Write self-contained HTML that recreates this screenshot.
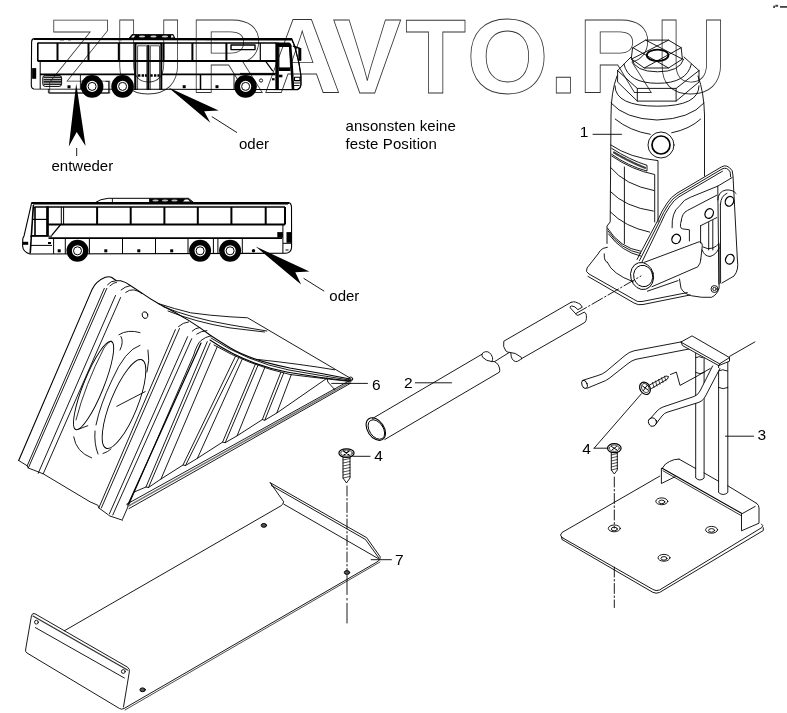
<!DOCTYPE html>
<html><head><meta charset="utf-8">
<style>
html,body{margin:0;padding:0;background:#fff;}
body{width:787px;height:713px;overflow:hidden;}
svg{display:block;will-change:transform;}
text{font-family:"Liberation Sans",sans-serif;}
</style></head>
<body>
<svg width="787" height="713" viewBox="0 0 787 713">
<g id="wm" font-size="105.5" font-weight="bold" fill="none" stroke="#333" stroke-width="0.8"><text transform="translate(46.6,92.8) scale(1.03,1)" stroke-width="0.78">Z</text><text transform="translate(113.9,92.8) scale(0.912,1)" stroke-width="0.88">U</text><text transform="translate(189.2,92.8) scale(0.987,1)" stroke-width="0.81">R</text><text transform="translate(263.1,92.8) scale(1.03,1)" stroke-width="0.78">A</text><text transform="translate(333,92.8) scale(0.972,1)" stroke-width="0.82">V</text><text transform="translate(405.3,92.8) scale(0.944,1)" stroke-width="0.85">T</text><text transform="translate(466.4,92.8) scale(1.0,1)" stroke-width="0.80">O</text><text transform="translate(549.5,92.8) scale(0.95,1)" stroke-width="0.84">.</text><text transform="translate(578.2,92.8) scale(0.987,1)" stroke-width="0.81">R</text><text transform="translate(656.3,92.8) scale(0.922,1)" stroke-width="0.87">U</text></g>

<!-- bus 1 -->
<g id="bus1" stroke="#000" fill="none" stroke-linejoin="round">
<!-- outer body -->
<path d="M291.8,38.6 L34.5,38.6 Q31.6,38.8 31.6,42 L31.3,85 Q31.3,88.6 34,89 L298,89.6 Q301,88 301,84 L301,75.8 L299,63.6 L294.9,46.3 Z" stroke-width="1.1"/>
<line x1="34" y1="39.3" x2="292" y2="39.8" stroke-width="1.6"/>
<path d="M60,40.6 h4 M68,40.6 h3 M118,40.6 h4 M206,40.6 h4 M214,40.6 h3 M262,40.6 h4 M270,40.6 h3" stroke-width="0.8" stroke="#888"/>
<!-- roof AC -->
<path d="M128.8,38.6 L132,34.5 L173.2,34.5 L175,38.6 Z" fill="#000" stroke-width="0.8"/>
<path d="M131,37.6 L133,35.5 L135,35.5 L134,37.6 Z M171,35.5 L173,35.5 L173.5,37.6 L171,37.6 Z" fill="#fff" stroke="none"/>
<ellipse cx="142" cy="36.6" rx="3.2" ry="1" fill="#ccc" stroke="none"/>
<ellipse cx="153.5" cy="36.6" rx="3.2" ry="1" fill="#ccc" stroke="none"/>
<ellipse cx="165" cy="36.6" rx="3.2" ry="1" fill="#ccc" stroke="none"/>
<!-- window band -->
<line x1="37.5" y1="43" x2="276" y2="43" stroke-width="1.6"/>
<line x1="37.5" y1="61" x2="276" y2="61" stroke-width="2"/>
<line x1="37.8" y1="43" x2="37.8" y2="61" stroke-width="1.6"/>
<g stroke-width="2">
<line x1="57.5" y1="43" x2="57.5" y2="61"/>
<line x1="88.5" y1="43" x2="88.5" y2="61"/>
<line x1="118.8" y1="43" x2="118.8" y2="61"/>
<line x1="163.5" y1="43" x2="163.5" y2="61"/>
<line x1="192.4" y1="43" x2="192.4" y2="61"/>
<line x1="226.4" y1="43" x2="226.4" y2="61"/>
</g>
<line x1="260.3" y1="43" x2="260.3" y2="61" stroke-width="1.2"/>
<rect x="231" y="45" width="24" height="4.6" stroke-width="1.4"/>
<!-- door -->
<line x1="135.3" y1="42.7" x2="135.3" y2="90" stroke-width="2.2"/>
<line x1="148.3" y1="45" x2="148.3" y2="90" stroke-width="2.2"/>
<line x1="161.3" y1="42.7" x2="161.3" y2="90" stroke-width="2"/>
<line x1="135" y1="43.5" x2="162" y2="43.5" stroke-width="1.5"/>
<path d="M137.6,90 L137.6,45.8 L146.8,45.8 L146.8,90 M150.3,90 L150.3,45.8 L159.5,45.8 L159.5,90" stroke-width="0.7"/>
<path d="M138,75.5 h2.4 M141.6,75.5 h2.4 M144.9,75.5 h2 M150.3,75.5 h2.4 M154,75.5 h2.4 M157.4,75.5 h2.2" stroke-width="2.4"/>
<!-- lower body -->
<line x1="40" y1="74.4" x2="135" y2="74.4" stroke-width="1.8"/>
<line x1="162" y1="74.4" x2="275.5" y2="74.4" stroke-width="1.8"/>
<line x1="40.2" y1="61" x2="40.2" y2="89" stroke-width="1"/>
<rect x="32.1" y="68.1" width="4.1" height="10.7" fill="#000" stroke="none"/>
<rect x="42.8" y="75.4" width="18.8" height="11" rx="2.5" stroke-width="1"/>
<path d="M43.5,77.3 h17.5 M43.5,79.6 h17.5 M43.5,81.9 h17.5 M43.5,84.2 h17.5" stroke-width="1.6" stroke="#222"/>
<path d="M48.4,89 L48.4,93 L108.6,93 L108.6,81.4 L105.6,81.4" stroke-width="0.8"/>
<line x1="80.4" y1="75" x2="80.4" y2="89" stroke-width="0.9"/>
<line x1="200.5" y1="74.4" x2="200.5" y2="90" stroke-width="1.5"/>
<line x1="234" y1="74.4" x2="234" y2="90" stroke-width="0.9"/>
<!-- front -->
<path d="M275.4,42.6 L289,42.6 Q291.5,43.5 291.5,47 L278.9,47 Z" fill="#000" stroke="none"/>
<path d="M290,45 L291.3,60 L293,89" stroke-width="2.6"/>
<line x1="277.1" y1="42.6" x2="277.1" y2="89" stroke-width="3.5"/>
<path d="M279,47 L279,68 M289.8,47 L290.5,68" stroke-width="0.8"/>
<line x1="278.9" y1="69.2" x2="290.6" y2="69.2" stroke-width="3.6"/>
<line x1="265.9" y1="61.7" x2="272.8" y2="71.2" stroke-width="1.2"/>
<path d="M292,40.5 L294.5,46 L299,63 L300.8,75 L300.9,85 Q300.5,88.5 297,89.5" stroke-width="1"/>
<path d="M293,46 L300,48.5" stroke-width="1.4"/>
<rect x="298.3" y="48" width="3" height="12.8" fill="#000" stroke="none"/>
<rect x="294.5" y="77.3" width="5.5" height="3.3" stroke-width="1.1"/>
<line x1="293.5" y1="83" x2="300" y2="83" stroke-width="0.9"/>
<line x1="293.5" y1="85.5" x2="299.5" y2="85.5" stroke-width="0.9"/>
<line x1="240" y1="73.4" x2="276" y2="73.4" stroke-width="1"/>
<circle cx="261" cy="80.5" r="1.6" stroke-width="0.9"/>
<rect x="278.9" y="74.7" width="3.5" height="2.6" fill="#000" stroke="none"/>
<rect x="272" y="78.2" width="2.6" height="2.1" fill="#000" stroke="none"/>
<!-- markers -->
<rect x="67.5" y="85.3" width="3" height="3" fill="#000" stroke="none"/>
<rect x="182.7" y="85.2" width="3" height="3" fill="#000" stroke="none"/>
<rect x="215.5" y="85.2" width="3" height="3" fill="#000" stroke="none"/>
</g>
<g id="wheels1">
<circle cx="92.1" cy="86.4" r="11.3" fill="#000"/><circle cx="92.1" cy="86.4" r="5.6" fill="#fff"/><circle cx="92.1" cy="86.4" r="4" fill="none" stroke="#000" stroke-width="1"/>
<circle cx="122.6" cy="86.4" r="11.3" fill="#000"/><circle cx="122.6" cy="86.4" r="5.6" fill="#fff"/><circle cx="122.6" cy="86.4" r="4" fill="none" stroke="#000" stroke-width="1"/>
<circle cx="245.6" cy="86.4" r="11.3" fill="#000"/><circle cx="245.6" cy="86.4" r="5.6" fill="#fff"/><circle cx="245.6" cy="86.4" r="4" fill="none" stroke="#000" stroke-width="1"/>
</g>

<!-- bus 2 -->
<g id="bus2" stroke="#000" fill="none" stroke-linejoin="round">
<path d="M31.7,202.6 L288.5,202.6 Q291.3,203 291.5,207 L291.6,247 Q291.4,252.5 286,253.3 L30,254 Q23,252 22.6,246 L22.8,238.5 L24.1,235.7 L31.7,202.6 Z" stroke-width="1.1"/>
<line x1="32" y1="203.2" x2="289" y2="203.2" stroke-width="1.5"/>
<line x1="33" y1="204.6" x2="288" y2="204.6" stroke-width="0.6"/>
<!-- AC -->
<path d="M95.6,202.4 Q100,199 108.3,198.3 L188.5,198.3 L193.5,202.4" stroke-width="1"/>
<line x1="112.4" y1="198.5" x2="112.4" y2="202.4" stroke-width="0.9"/>
<line x1="149.5" y1="198.5" x2="149.5" y2="202.4" stroke-width="0.9"/>
<path d="M150,198.5 L188.5,198.5 L193,202.4 L150,202.4 Z" fill="#000" stroke="none"/>
<ellipse cx="155.5" cy="200.5" rx="3.2" ry="0.9" fill="#bbb" stroke="none"/>
<ellipse cx="165" cy="200.5" rx="3.2" ry="0.9" fill="#bbb" stroke="none"/>
<ellipse cx="174.5" cy="200.5" rx="3.2" ry="0.9" fill="#bbb" stroke="none"/>
<path d="M183,201.5 L185,199.5 L188,199.5 L190,201.5 Z" fill="#fff" stroke="none"/>
<!-- front -->
<line x1="33.4" y1="205" x2="30.2" y2="253.5" stroke-width="1.6"/>
<path d="M34.8,207 L47.5,207 L47.5,235.7 L31.5,235.7" stroke-width="1.6"/>
<line x1="33" y1="219.4" x2="47" y2="219.4" stroke-width="1.2"/>
<path d="M33,207.5 L35,207.5 L35,235" stroke-width="1.6"/>
<line x1="47.5" y1="206.5" x2="47.5" y2="236" stroke-width="2.6"/>
<line x1="47.5" y1="207" x2="285" y2="207" stroke-width="1.6"/>
<line x1="47.5" y1="224.6" x2="285" y2="224.6" stroke-width="2"/>
<line x1="61.3" y1="207" x2="61.3" y2="224.5" stroke-width="1"/>
<line x1="63.6" y1="207" x2="63.6" y2="224.5" stroke-width="1"/>
<line x1="60.7" y1="224.5" x2="51.5" y2="235.7" stroke-width="1.2"/>
<line x1="48.5" y1="238.2" x2="282" y2="238.2" stroke-width="1.8"/>
<line x1="30" y1="236.2" x2="52" y2="236.2" stroke-width="1"/>
<line x1="30" y1="245.4" x2="52" y2="245.4" stroke-width="1"/>
<rect x="22.6" y="241.8" width="5.6" height="3" fill="#000" stroke="none"/>
<rect x="48" y="242" width="3" height="2" fill="#000" stroke="none"/>
<g stroke-width="2">
<line x1="97.1" y1="207" x2="97.1" y2="224.6"/>
<line x1="130.7" y1="207" x2="130.7" y2="224.6"/>
<line x1="164.4" y1="207" x2="164.4" y2="224.6"/>
<line x1="197.8" y1="207" x2="197.8" y2="224.6"/>
<line x1="231.4" y1="207" x2="231.4" y2="224.6"/>
<line x1="265.7" y1="207" x2="265.7" y2="224.6"/>
<line x1="285" y1="207" x2="285" y2="224.6"/>
</g>
<!-- lower -->
<g stroke-width="1">
<line x1="53.6" y1="238" x2="53.6" y2="254"/>
<line x1="65.3" y1="238" x2="65.3" y2="254"/>
<line x1="89.4" y1="238" x2="89.4" y2="254"/>
<line x1="122.5" y1="238" x2="122.5" y2="254"/>
<line x1="155.5" y1="238" x2="155.5" y2="254"/>
<line x1="188" y1="238" x2="188" y2="254"/>
<line x1="213.4" y1="238" x2="213.4" y2="254"/>
<line x1="217.9" y1="238" x2="217.9" y2="254"/>
<line x1="242.3" y1="238" x2="242.3" y2="254"/>
<line x1="282.9" y1="224" x2="282.9" y2="253"/>
<line x1="283" y1="243.3" x2="291" y2="243.3"/>
</g>
<rect x="277.3" y="232.1" width="5.6" height="5.6" fill="#000" stroke="none"/>
<rect x="286.5" y="232.1" width="4.6" height="10.7" fill="#000" stroke="none"/>
<line x1="285.5" y1="250" x2="288.5" y2="250" stroke-width="1"/>
<rect x="57.7" y="249.3" width="3" height="3" fill="#000" stroke="none"/>
<rect x="104.3" y="249.3" width="3" height="3" fill="#000" stroke="none"/>
<rect x="137.3" y="249.3" width="3" height="3" fill="#000" stroke="none"/>
<rect x="170.2" y="249.3" width="3" height="3" fill="#000" stroke="none"/>
<circle cx="253.5" cy="250.8" r="1.7" fill="#000" stroke="none"/>
</g>
<g id="wheels2">
<circle cx="77.5" cy="250.8" r="11" fill="#000"/><circle cx="77.5" cy="250.8" r="5.6" fill="#fff"/><circle cx="77.5" cy="250.8" r="4" fill="none" stroke="#000" stroke-width="1"/>
<circle cx="200.1" cy="250.8" r="11" fill="#000"/><circle cx="200.1" cy="250.8" r="5.6" fill="#fff"/><circle cx="200.1" cy="250.8" r="4" fill="none" stroke="#000" stroke-width="1"/>
<circle cx="230.1" cy="250.8" r="11" fill="#000"/><circle cx="230.1" cy="250.8" r="5.6" fill="#fff"/><circle cx="230.1" cy="250.8" r="4" fill="none" stroke="#000" stroke-width="1"/>
</g>

<!-- chock (6) -->
<g id="chock" stroke="#000" fill="none" stroke-width="0.9" stroke-linejoin="round" stroke-linecap="round">
<!-- outer silhouette -->
<path d="M18.7,460.5 L92.1,289.4 Q96,281 105.3,277.2 Q109,276.3 111.4,277.2 L116.5,280.8 L120.6,280.8 Q126,282 130.7,285.8 L140.9,292.4 Q150,299 160,304.5 Q175,312 188.6,320.4 Q200,327.5 211,335.7 Q220,341.5 230,347.8 Q250,360 289.8,368 Q320,373 351.3,379.2" stroke-width="1.1"/>
<path d="M158,303.5 Q175,309 190.7,312.8 Q210,315.5 230,316.8 L247.6,317.8 L350.2,378.1"/>
<path d="M163,306.5 Q190,318 230,324.8 L266.9,331"/>
<path d="M168,311 Q195,322 230,327.9 L264.5,332"/>
<path d="M18.7,460.5 L27.2,465.8 L28.3,468 L43.2,473.8 L90,501.8 L97.9,505.3 L98.8,507.9 L108.4,514.9 L109.3,515.8 L122.5,520.2"/>
<!-- front slab lines -->
<path d="M27.2,465.8 L104.3,288.4"/>
<path d="M107.5,284.8 Q111,280.5 115.5,280.8"/>
<path d="M110,285.8 Q113.5,282.5 116.5,282.3"/>
<path d="M28.3,468 L106.8,288.4"/>
<path d="M43.2,473.8 L120.6,297.5"/>
<path d="M121.1,289.9 Q125,286.5 129.7,285.8"/>
<path d="M125.7,292.4 Q129,289.5 133.8,289.9 Q138,290.5 141.9,293.5"/>
<path d="M38.2,473.3 L115.5,295.5"/>
<path d="M98.8,507.9 L175.4,329.6"/>
<path d="M178.5,326.5 Q183,322.5 188.6,321.9"/>
<path d="M192.2,331.1 Q195,328 199.8,327.5"/>
<path d="M196.7,334.1 Q201,331 206.9,330.6"/>
<path d="M101.4,507.9 L179.5,328.5"/>
<path d="M109.3,514 L187.6,336.7"/>
<path d="M112.8,514.9 L191.7,338.7"/>
<path d="M122.5,519.3 L193.7,355 Q197,344 200.8,340.7 Q205,337 211,335.7"/>
<path d="M127.7,505.3 L201,343" stroke-width="1.2"/>
<!-- ridge curves -->
<path d="M211,338 Q248,362 289,370 Q320,375.5 350.5,380.2"/>
<path d="M210,340 Q245,364 288,372.3 Q320,378 350,381" stroke-width="1.1"/>
<path d="M214,345 Q248,365 290,374.5 Q327,379 350,381.5"/>
<path d="M258,359.5 Q300,364 334.7,369.8"/>
<!-- base -->
<path d="M126.7,504.2 L350.7,380"/>
<path d="M129,508.6 L350.7,383.2"/>
<path d="M127.8,506.4 L350.7,381.6" stroke="#777" stroke-width="1.6"/>
<!-- floor & ribs -->
<path d="M133.9,492.1 L146,487 L148.5,487.5 L161,479 L183,465 L185.5,465.5 L197.4,458.3 L222.6,442.1 L225.2,442.7 L237.1,435.8 L262.3,419.6 L264.8,420.2 L276.8,413 L327,378.2"/>
<path d="M146.0,487.0 L207.3,341.6"/>
<path d="M148.5,487.5 L210.2,343.0"/>
<path d="M161.0,479.0 L217.2,346.8"/>
<path d="M183.0,465.0 L235.5,356.2"/>
<path d="M185.5,465.5 L238.8,357.6"/>
<path d="M197.4,458.3 L242.2,359.2"/>
<path d="M222.6,442.1 L255.3,364.3"/>
<path d="M225.2,442.7 L258.0,365.2"/>
<path d="M237.1,435.8 L264.8,367.5"/>
<path d="M262.3,419.6 L280.9,372.2"/>
<path d="M264.8,420.2 L283.7,373.0"/>
<path d="M276.8,413.0 L291.3,374.7"/>
<path d="M327,378.2 L327.9,382 L334.7,389.6"/>
<circle cx="350.7" cy="379" r="2"/>
<line x1="331.7" y1="383.4" x2="367.5" y2="383.4"/>
<!-- hole -->
<ellipse cx="145" cy="315.1" rx="2.8" ry="3.4" transform="rotate(-20 145 315.1)"/>
<!-- ovals -->
<ellipse cx="93.6" cy="385.5" rx="47.5" ry="10" transform="rotate(-68 93.6 385.5)"/>
<path d="M76,420 Q85,385 104,348 Q108,342 111,341" stroke-width="0.8"/>
<ellipse cx="124" cy="404" rx="47.7" ry="13.5" transform="rotate(-68 124 404)"/>
<line x1="116.8" y1="406.3" x2="145.2" y2="391.6"/>
<path d="M118.9,334.7 Q128,329 140,332.6"/>
<path d="M121,336.5 Q124,342 120,350"/>
<path d="M140,345.3 Q125,350 112,380 Q100,405 96,425"/>
<path d="M148,350 Q150,360 147,372"/>
<path d="M73.7,436.8 Q76,452 91.6,457.9"/>
<path d="M95,431 Q94,444 98,454"/>
<path d="M103,453.5 Q108,452 111,449"/>
<path d="M78.6,429.2 L87.8,425.7"/>
</g>

<!-- handle (2) -->
<g id="handle" stroke="#000" fill="none" stroke-width="0.9" stroke-linejoin="round" stroke-linecap="round">
<ellipse cx="375.8" cy="429.1" rx="8.2" ry="12.4" transform="rotate(-34 375.8 429.1)" stroke-width="1.1"/>
<ellipse cx="376.4" cy="429.5" rx="6.9" ry="10.8" transform="rotate(-34 376.4 429.5)"/>
<path d="M372.5,418.5 L482,354.2 Q483,352 485.5,351.7 Q490,351 492.5,357.3 Q493,360 491.8,361.6 Q486,361 482.7,357.3 Q481.5,355.5 482,354.2"/>
<path d="M491.8,361.6 L494.6,361.6 Q499,364 499.5,368 Q500,371 499.5,372.1 L384.8,439.5"/>
<path d="M494.6,361.6 L509.4,352.4"/>
<path d="M570.9,302.4 L503.8,341.2 Q502.5,347 505.9,351 Q508,352.5 509.4,352.4 Q515,352 521.3,357.3 Q522,359.5 520.6,359.5 Q517,362 515.7,361.6 Q511,360.5 510.8,353.1"/>
<path d="M521.3,358.8 L584.9,322.4 Q586.5,320 586.4,318.6 Q586.5,315 586.1,314.1 Q585,312 584.2,312.2 L577.9,315.4 Q576,315 576,314.1 L570.2,307.8 Q569.5,306.5 571.5,305.9 Q575,306 577.9,309.7 L582.3,307.2 Q580,303 578.5,303.3 Q575,301.5 573.4,301.8 L570.9,302.4"/>
<line x1="415.3" y1="382.8" x2="451.5" y2="382.8"/>
</g>

<!-- jack (1) -->
<g id="jack" stroke="#000" fill="none" stroke-width="0.9" stroke-linejoin="round" stroke-linecap="round">
<!-- top nut -->
<ellipse cx="657.6" cy="55.3" rx="10.8" ry="5.7" stroke-width="1.8"/>
<path d="M632.9,47.7 L645.6,40.1 L668.5,40.1 L681.2,47.7 L682.4,59.1 L668.5,68 L644.3,68 L631.6,59.1 Z"/>
<path d="M632.9,47.7 L668.5,68 M645.6,40.1 L682.4,59.1 M668.5,40.1 L631.6,59.1 M681.2,47.7 L644.3,68"/>
<path d="M631.6,59.1 Q635,71.8 657.6,71.8 Q680,71.8 683.7,59.1"/>
<path d="M624,64.2 Q628,83.3 657.6,83.3 Q687,83.3 691.3,64.2"/>
<path d="M617.6,70.6 L631,57 M684,57 L699,70.6"/>
<path d="M617.6,70.6 L617.6,82 L637.3,101.1 L676.1,101.1 L699,82 L699,70.6"/>
<path d="M617.6,70.6 L637.3,88.4 L676.1,88.4 L699,70.6"/>
<path d="M637.3,88.4 L637.3,101.1 M676.1,88.4 L676.1,101.1"/>

<!-- body -->
<path d="M615,85.8 Q615,106.2 657.6,106.2 Q699,106.2 699,85.8"/>
<path d="M617,76 Q611,92 611,115 L610.2,221.9 L607,226 L607,243.5"/>
<path d="M698,76 Q704,92 704.5,115 L704.5,176"/>
<path d="M611,103 Q625,119 657,120 Q690,119 704,103"/>
<path d="M615.2,119.1 Q630,131 650.3,134.3 M671.7,132.8 Q690,129 700.6,119.1"/>
<circle cx="661" cy="145" r="13" stroke-width="0.9"/>
<circle cx="661" cy="145" r="9" stroke-width="1.7"/>
<line x1="593" y1="134.3" x2="621.5" y2="134.3"/>
<path d="M610.9,145 Q630,158 658,160.6 L658,222"/>
<path d="M611.7,148.4 Q630,160 647,165.3 L647,171.1 Q628,166 611.7,154.3"/>
<path d="M614,152.5 Q630,162 645,167.8" stroke="#444" stroke-width="2.2" stroke-dasharray="2,0.8"/>
<path d="M611.7,156 Q632,170 654.7,174.5 L654.7,222"/>
<path d="M624.4,167 L624.4,243.5"/>
<path d="M610.9,167.8 Q625,185 653.8,190.5"/>
<path d="M610.2,191.4 Q625,207 653.4,211.1"/>
<path d="M610.2,211.8 Q625,227 649.6,232.1"/>
<path d="M607.6,228.3 Q620,248 640.7,251.2"/>
<path d="M608,231 Q621,250 640.7,253.5"/>
<path d="M608.5,234 Q622,252 640.7,256"/>
<!-- base -->
<path d="M607.4,247.3 L603.1,248.4 Q600,250 598,254 L587,268 Q585,272 589,274 L633.3,299.1 Q637,302.5 642,301.5 L687.3,292.6"/>
<path d="M588,276.4 L634,303 Q638,305.5 643,304.5 L690,295"/>
<path d="M604.2,253.8 Q604,262 607.4,262.4"/>
<path d="M607.4,262.4 Q612,274 633.3,281.8"/>
<!-- bracket -->
<path d="M637,259.5 L657.3,221.3 Q662,210 667.1,203.1 Q671,197 677,193.2 L721.5,166.9 Q727,163.5 732.2,170.7 L733,176 L737.4,260 Q739,270 734,276 L722,283"/>
<path d="M639.5,260.5 L659,222.3 Q663.5,211.5 668.5,204.5 Q672.5,198.5 678,195 L722,169 Q727,166.5 730.2,172 L730.6,176.8"/>
<path d="M642,262 L660.8,223.3 Q665,213 670,206 Q674,200 679,196.8 L722.5,171.2"/>
<path d="M672.1,227.8 Q671.5,212 679.2,206.4 Q684,199 690.4,197.3 L717.8,186.1 L732.2,177.5"/>
<path d="M717.8,186.1 L718.9,284 M720.4,204.4 L720.6,283"/>
<path d="M717.8,200 Q718,191.5 726,190 Q733,189.5 736.1,193.5"/>
<path d="M720.4,204.4 Q721,195.5 727,193.3"/>
<path d="M681.3,220.7 Q682,213 687.4,210.5 L716.8,195.2"/>
<path d="M681.3,220.7 Q679,228 682.3,228.8 L689.4,229.8 L689.4,241"/>
<path d="M700.6,225.7 L716.8,217.6"/>
<path d="M700.6,225.7 L700.6,243 M708.7,222.5 L708.7,250 M712.8,220.5 L712.8,250"/>
<ellipse cx="729.5" cy="201.3" rx="4.1" ry="5" transform="rotate(25 729.5 201.3)" stroke-width="1.3"/>
<ellipse cx="729.8" cy="259.2" rx="4.1" ry="5" transform="rotate(25 729.8 259.2)" stroke-width="1.3"/>
<ellipse cx="709.2" cy="213.5" rx="4" ry="5" transform="rotate(25 709.2 213.5)" stroke-width="1.3"/>
<ellipse cx="676.2" cy="238.9" rx="4.2" ry="4.8" transform="rotate(25 676.2 238.9)" stroke-width="1.3"/>
<!-- socket tube -->
<ellipse cx="642.1" cy="276" rx="11.4" ry="13.7" transform="rotate(-15 642.1 276)"/>
<ellipse cx="643.2" cy="276" rx="9.5" ry="10.8" transform="rotate(-15 643.2 276)"/>
<path d="M644.4,262.3 L699.3,241.7 Q703,243 702.3,245.5 L700.8,259.2"/>
<path d="M652,286.7 L697.8,266.8 Q701,263 700.8,259.2"/>
<path d="M647.4,291.2 L678,280.6"/>
<path d="M679.5,279 L681,288.2 Q684,294 691.7,295.8 Q702,298 711.5,297.3 Q717,295 719.1,288.2 L719.1,244"/>
<path d="M702.3,250.1 Q704,256 710,256.5 Q716,255 719.1,248"/>
<path d="M703,247 Q708,250 713,248 Q717,246 719,243.5"/>
<circle cx="714.5" cy="289" r="3.5"/>
<circle cx="714.5" cy="289" r="1.7"/>
<path d="M576,313.5 L641,276" stroke-dasharray="12,2.5,1.5,2.5"/>
</g>

<!-- plate (7) -->
<g id="plate" stroke="#000" fill="none" stroke-width="0.9" stroke-linejoin="round" stroke-linecap="round">
<path d="M270.2,482.7 L366.7,537.7 L380.2,556.8 Q381,560 377,562 L124,708.5 Q121.5,709.8 119.5,708.5 L27,653 Q25,652 25.7,649 L31.5,615.5 Q32.5,612.5 35,613.8 L127.6,667.2 Q130,669 129.3,672 L123.5,707"/>
<path d="M271.3,485.5 L365.5,539.5 L378.5,557.5"/>
<path d="M270.2,482.7 L283.7,501.8 Q283,504.5 281,505.8 L64.3,630.8"/>
<path d="M283.7,504.1 L379,559"/>
<path d="M33,616 L127.5,670" stroke-width="1.4" stroke="#333"/>
<path d="M35.4,627.6 L124.4,678"/>
<path d="M125,710 L380,562" stroke-width="0.7"/>
<circle cx="36.4" cy="622.2" r="1.9"/>
<circle cx="123.3" cy="671.5" r="1.9"/>
<ellipse cx="263.9" cy="525.4" rx="2.7" ry="1.9" fill="#555" stroke-width="1"/>
<ellipse cx="347" cy="572.5" rx="2.7" ry="1.9" fill="#555" stroke-width="1"/>
<ellipse cx="142.6" cy="689.8" rx="2.7" ry="1.9" fill="#555" stroke-width="1"/>
<path d="M347,486 L347,570" stroke-dasharray="10,2.5,1.5,2.5"/>
<path d="M347,575.5 L347,594.5 M347,598.4 L347,600 M347,603.3 L347,623"/>
<line x1="371.2" y1="559.7" x2="391.4" y2="559.7"/>
<!-- screw 4 -->
<ellipse cx="346.5" cy="453.1" rx="7.6" ry="4.3" stroke-width="1.2"/>
<ellipse cx="346.5" cy="453.1" rx="5.8" ry="3" stroke-width="0.7"/>
<path d="M343.5,451 L349,455 M349,451 L344,455" stroke-width="1.1"/>
<path d="M343,457 L343,478 L346.5,483 L350,478 L350,457"/>
<path d="M343,460 L350,458.5 M343,463 L350,461.5 M343,466 L350,464.5 M343,469 L350,467.5 M343,472 L350,470.5 M343,475 L350,473.5 M343,478 L350,476.5" stroke-width="0.7"/>
<line x1="353" y1="456.3" x2="370" y2="456.3"/>
</g>

<!-- stand (3) -->
<g id="stand" stroke="#000" fill="none" stroke-width="0.9" stroke-linejoin="round" stroke-linecap="round">
<!-- base plate -->
<path d="M659.8,476.1 L562,532.5 Q559,535 562,537.5 L652.8,589.4 Q656,591.5 659.5,590 L761.9,527.5 Q764,525.5 761.5,524"/>
<path d="M561.5,537 L562,539.5 L652.8,592.3 Q656,594 659.5,592.5 L763.3,530.5 L763.3,527.8"/>
<!-- flange -->
<path d="M662.2,468.3 L741.5,513.3" stroke-width="1.1"/>
<path d="M663,470.8 L741.5,515.8" stroke-width="0.8"/>
<path d="M679,459.1 L695.7,468.5 M704.1,472.9 L718.6,481.3 M727.8,485.8 L756.7,503.4"/>
<path d="M662.2,468.3 Q665,463 669.8,461.4 Q674,459 679,459.1"/>
<path d="M661.4,468.3 L661.4,483.5 L675.2,476.7"/>
<path d="M756.7,503.4 Q759,505 759,508 L759,523.2 L741.5,530.8 L741.5,514 L755.2,506.4"/>
<!-- posts -->
<path d="M695.7,345 L695.7,478 Q699.9,482 704.1,478 L704.1,350"/>
<path d="M718.6,364 L718.6,492.5 Q723.2,496.5 727.8,492.5 L727.8,362"/>
<path d="M695.7,372.5 Q699.9,375 704.1,372.5"/>
<path d="M718.6,387.5 Q723.2,390 727.8,387.5"/>
<!-- top plate -->
<path d="M681.2,341.9 L692.1,335.9 L729.5,357.6 L729.5,361.2 L718.7,365.6 L682.4,345.5 Z" fill="#fff" stroke="none"/>
<path d="M681.2,341.9 L692.1,335.9 L729.5,357.6 L719.9,363.6 Z"/>
<path d="M695.7,357.6 Q699.2,355.5 702.6,357.6 M718.3,370.9 Q722.8,368.5 727.3,370.9"/>
<path d="M681.2,341.9 L682.4,345.5 L718.7,365.6 L729.5,361.2 L729.5,357.6"/>
<path d="M719.9,363.6 L718.7,365.6"/>
<!-- rod 1 -->
<path d="M681.2,341.9 L634,350.8 Q629,352 625,355.5 L606,371.5 Q603,374 598,375.5 L582.2,380.5"/>
<path d="M688.5,349.1 L636,359.3 Q632,360.3 628,363.5 L609,378.5 Q606,380.8 601,382.5 L587,388.3"/>
<ellipse cx="584.5" cy="384.4" rx="2.6" ry="4.2" transform="rotate(-20 584.5 384.4)"/>
<!-- rod 2 -->
<path d="M712.6,366 L698.1,395 L659.5,408.3 L649.8,419.2 L655.9,424 L664.3,413.1 L703,401 L719.9,368.5 Z" fill="#fff" stroke="none"/>
<path d="M712.6,366 L700,391 Q698,395 694,396.5 L663,407 Q659.5,408.3 657,411 L649.8,419.2"/>
<path d="M719.9,368.5 L705,397 Q703,401 699,402.3 L667,412.3 Q664.3,413.1 662,416 L655.9,424"/>
<ellipse cx="652.5" cy="422" rx="4" ry="4.2" transform="rotate(-20 652.5 422)"/>
<path d="M670.4,374.5 L676.4,372.1 L680,385.4 L695.7,376.9 L710.2,368.5"/>
<line x1="729.5" y1="356.4" x2="754.9" y2="341.9"/>
<!-- screw upper -->
<ellipse cx="645" cy="388.3" rx="5" ry="6.5" transform="rotate(-30 645 388.3)" stroke-width="1.2"/>
<ellipse cx="645.3" cy="388" rx="3.5" ry="4.8" transform="rotate(-30 645.3 388)" stroke-width="0.7"/>
<path d="M642.5,386 L648,390 M647,385.5 L643.5,390.5" stroke-width="1"/>
<path d="M649.5,385 L666,376 L668.5,376.5 L667.5,379 L651.5,388.5"/>
<path d="M652.5,382.5 L654,387.5 M655.5,381 L657,386 M658.5,379.3 L660,384.3 M661.5,377.7 L663,382.7 M664.5,376.2 L665.8,380.8" stroke-width="0.7"/>
<line x1="641.4" y1="393.8" x2="594.1" y2="448.2"/>
<!-- screw lower -->
<ellipse cx="614.3" cy="448.2" rx="6.8" ry="4.5" stroke-width="1.2"/>
<ellipse cx="614.3" cy="448.2" rx="5" ry="3.2" stroke-width="0.7"/>
<path d="M611.5,446.5 L617,450 M616.5,446.5 L612,450" stroke-width="1"/>
<path d="M611.3,452 L611.3,470 L614.3,474 L617.3,470 L617.3,452"/>
<path d="M611.3,455 L617.3,453.5 M611.3,458 L617.3,456.5 M611.3,461 L617.3,459.5 M611.3,464 L617.3,462.5 M611.3,467 L617.3,465.5 M611.3,470 L617.3,468.5" stroke-width="0.7"/>
<line x1="594.1" y1="448.2" x2="608" y2="448.2"/>
<path d="M614.3,477 L614.3,528" stroke-dasharray="10,2.5,1.5,2.5"/>
<path d="M614.3,567 L614.3,607.5" stroke-dasharray="10,2.5,1.5,2.5"/>
<line x1="725.5" y1="436.2" x2="753.5" y2="436.2"/>
<!-- holes -->
<ellipse cx="661.8" cy="501.3" rx="6" ry="3.4"/><ellipse cx="661.8" cy="501.9" rx="3" ry="1.8"/>
<ellipse cx="614.3" cy="528.4" rx="6" ry="3.4"/><ellipse cx="614.3" cy="529" rx="3" ry="1.8"/>
<ellipse cx="711.6" cy="529.8" rx="6" ry="3.4"/><ellipse cx="711.6" cy="530.4" rx="3" ry="1.8"/>
<ellipse cx="664" cy="557.8" rx="6" ry="3.4"/><ellipse cx="664" cy="558.4" rx="3" ry="1.8"/>
</g>

<g fill="#444"><rect x="773.2" y="5.7" width="1.8" height="2.3"/><rect x="775.3" y="4.8" width="2.8" height="2"/><rect x="780" y="6" width="7" height="1.8"/></g>
<!-- labels -->
<g fill="#000" font-size="15">
<text x="51.5" y="170.5">entweder</text>
<text x="239" y="148.6">oder</text>
<text x="345.5" y="130.7" letter-spacing="0.08">ansonsten keine</text>
<text x="345.5" y="148.5" letter-spacing="0.1">feste Position</text>
<text x="329.3" y="301.4">oder</text>
</g>
<g fill="#000" font-size="15.5">
<text x="579.7" y="136.8">1</text>
<text x="404.1" y="388.3">2</text>
<text x="757.5" y="440">3</text>
<text x="374.3" y="461">4</text>
<text x="582.3" y="453.7">4</text>
<text x="372" y="390">6</text>
<text x="395" y="564.8">7</text>
</g>

<!-- arrows -->
<g fill="#000" stroke="none">
<path d="M76.2,83.5 L85.6,145.9 L76.7,131.9 L68.8,146.6 Z"/>
<path d="M168.4,87.6 L218.7,110.5 L204.2,111.3 L210.3,122.7 Z"/>
<path d="M255.7,246.6 L309.4,271.4 L295.3,272.2 L301.1,284.6 Z"/>
</g>
<g stroke="#000" stroke-width="0.9" fill="none">
<line x1="76.7" y1="148" x2="76.7" y2="156"/>
<line x1="211.8" y1="116.6" x2="237" y2="132.6"/>
<line x1="303.6" y1="278.3" x2="324.2" y2="291.2"/>
</g>

</svg>
</body></html>
